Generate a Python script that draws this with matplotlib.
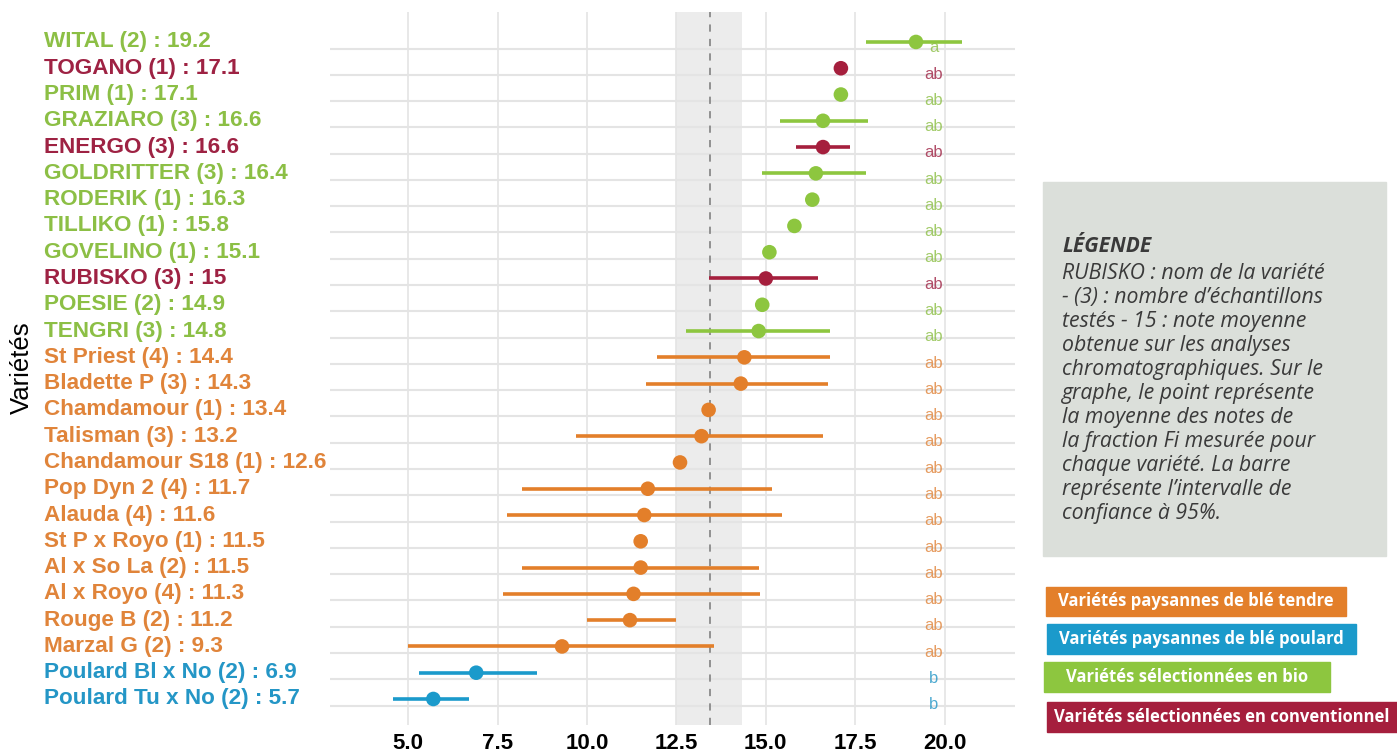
import matplotlib
matplotlib.use("Agg")
import matplotlib.pyplot as plt
import numpy as np
from matplotlib.patches import Rectangle
from matplotlib.transforms import blended_transform_factory

# varietes, de haut en bas
noms = ["WITAL (2) : 19.2", "TOGANO (1) : 17.1", "PRIM (1) : 17.1", "GRAZIARO (3) : 16.6",
        "ENERGO (3) : 16.6", "GOLDRITTER (3) : 16.4", "RODERIK (1) : 16.3", "TILLIKO (1) : 15.8",
        "GOVELINO (1) : 15.1", "RUBISKO (3) : 15", "POESIE (2) : 14.9", "TENGRI (3) : 14.8",
        "St Priest (4) : 14.4", "Bladette P (3) : 14.3", "Chamdamour (1) : 13.4",
        "Talisman (3) : 13.2", "Chandamour S18 (1) : 12.6", "Pop Dyn 2 (4) : 11.7",
        "Alauda (4) : 11.6", "St P x Royo (1) : 11.5", "Al x So La (2) : 11.5",
        "Al x Royo (4) : 11.3", "Rouge B (2) : 11.2", "Marzal G (2) : 9.3",
        "Poulard Bl x No (2) : 6.9", "Poulard Tu x No (2) : 5.7"]
groupes = ["bio", "conv", "bio", "bio", "conv", "bio", "bio", "bio", "bio", "conv", "bio", "bio",
           "tendre", "tendre", "tendre", "tendre", "tendre", "tendre", "tendre", "tendre",
           "tendre", "tendre", "tendre", "tendre", "poulard", "poulard"]
moyennes = [19.2, 17.1, 17.1, 16.6, 16.6, 16.4, 16.3, 15.8, 15.1, 15.0, 14.9, 14.8,
            14.4, 14.3, 13.4, 13.2, 12.6, 11.7, 11.6, 11.5, 11.5, 11.3, 11.2, 9.3, 6.9, 5.7]
ic_bas = [17.8, np.nan, np.nan, 15.4, 15.85, 14.9, np.nan, np.nan, np.nan, 13.4, np.nan, 12.77,
          11.95, 11.65, np.nan, 9.7, np.nan, 8.18, 7.75, np.nan, 8.17, 7.65, 10.0, 5.0, 5.3, 4.57]
ic_haut = [20.5, np.nan, np.nan, 17.85, 17.35, 17.8, np.nan, np.nan, np.nan, 16.45, np.nan, 16.8,
           16.8, 16.75, np.nan, 16.6, np.nan, 15.17, 15.45, np.nan, 14.8, 14.85, 12.5, 13.55, 8.6, 6.7]
lettres = ["a"] + ["ab"] * 23 + ["b", "b"]

moyenne_generale = 13.44
bande_ic = (12.5, 14.33)

couleurs = {"bio": "#8dc63f", "conv": "#a51f3d", "tendre": "#e37f2a", "poulard": "#1b9acb"}
couleurs_texte = {"bio": "#8cbf45", "conv": "#9e2243", "tendre": "#e0843a", "poulard": "#2496c6"}

legende_cat = [("Variétés paysannes de blé tendre", "tendre"),
               ("Variétés paysannes de blé poulard", "poulard"),
               ("Variétés sélectionnées en bio", "bio"),
               ("Variétés sélectionnées en conventionnel", "conv")]

texte_legende = ("RUBISKO : nom de la variété\n"
                 "- (3) : nombre d’échantillons\n"
                 "testés - 15 : note moyenne\n"
                 "obtenue sur les analyses\n"
                 "chromatographiques. Sur le\n"
                 "graphe, le point représente\n"
                 "la moyenne des notes de\n"
                 "la fraction Fi mesurée pour\n"
                 "chaque variété. La barre\n"
                 "représente l’intervalle de\n"
                 "confiance à 95%.")

W, H = 1397, 755
fig = plt.figure(figsize=(W / 100, H / 100), dpi=100)
ax = fig.add_axes([330 / W, 1 - 725 / H, 685 / W, 713 / H])

y = np.arange(len(noms))
cols = [couleurs[g] for g in groupes]

ax.axvspan(bande_ic[0], bande_ic[1], color="#ececec", zorder=0, lw=0)
for yy in y:
    ax.axhline(yy + 0.25, color="#e4e4e4", lw=1.5, zorder=1)
ax.set_xticks([5.0, 7.5, 10.0, 12.5, 15.0, 17.5, 20.0])
ax.grid(axis="x", color="#e4e4e4", lw=1.2, zorder=1)
ax.set_axisbelow(True)
ax.axvline(moyenne_generale, color="#8a8a8a", lw=1.3, ls=(0, (4, 4)), zorder=2)

ax.hlines(y, ic_bas, ic_haut, colors=cols, lw=2.6, zorder=3)
ax.scatter(moyennes, y, s=10.5 ** 2, c=cols, zorder=4, linewidths=0)

for yy, l, g in zip(y, lettres, groupes):
    ax.text(19.7, yy + 0.22, l, ha="center", va="center", fontsize=12,
            color=couleurs_texte[g], alpha=0.8, family="Liberation Sans")

ax.set_xlim(2.81, 21.97)
ax.set_ylim(len(noms) - 1 + 0.99, -1.14)
ax.set_yticks([])
ax.tick_params(axis="x", length=0, pad=6)
ax.set_xticklabels(["%.1f" % t for t in ax.get_xticks()], fontfamily="Liberation Sans",
                   fontweight="bold", fontsize=16)
for s in ax.spines.values():
    s.set_visible(False)

# noms des varietes a gauche
trans = blended_transform_factory(fig.transFigure, ax.transData)
for yy, n, g in zip(y, noms, groupes):
    ax.text(44 / W, yy, n, transform=trans, ha="left", va="center", fontsize=16.2,
            fontweight="bold", color=couleurs_texte[g], family="Liberation Sans", clip_on=False)

fig.text(22 / W, 1 - 368 / H, "Variétés", rotation=90, ha="center", va="center",
         fontsize=18.5, family="Liberation Sans")

# encadre gris
fig.patches.append(Rectangle((1043 / W, 1 - 556 / H), 343 / W, 374 / H,
                             transform=fig.transFigure, color="#dbdfda", zorder=0))
fig.text(1062 / W, 1 - 247 / H, "LÉGENDE", ha="left", va="center", fontsize=15,
         family="Open Sans", style="italic", fontweight="bold", color="#3a3a3a")
fig.text(1062 / W, 1 - 263 / H, texte_legende, ha="left", va="top", fontsize=15.3,
         family="Open Sans", style="italic", color="#3a3a3a", linespacing=1.19)

# cartouches de couleur
boites = [(1046, 587, 300, 29), (1047, 624, 309, 30), (1044, 662, 286, 30), (1047, 702, 350, 30)]
for (txt, g), (bx, by, bw, bh) in zip(legende_cat, boites):
    fig.patches.append(Rectangle((bx / W, 1 - (by + bh) / H), bw / W, bh / H,
                                 transform=fig.transFigure, color=couleurs[g], zorder=0))
    fig.text((bx + bw / 2) / W, 1 - (by + bh / 2) / H, txt, ha="center", va="center",
             fontsize=12, family="Open Sans", fontweight="bold", color="white")

fig.savefig("out.png", dpi=100)
